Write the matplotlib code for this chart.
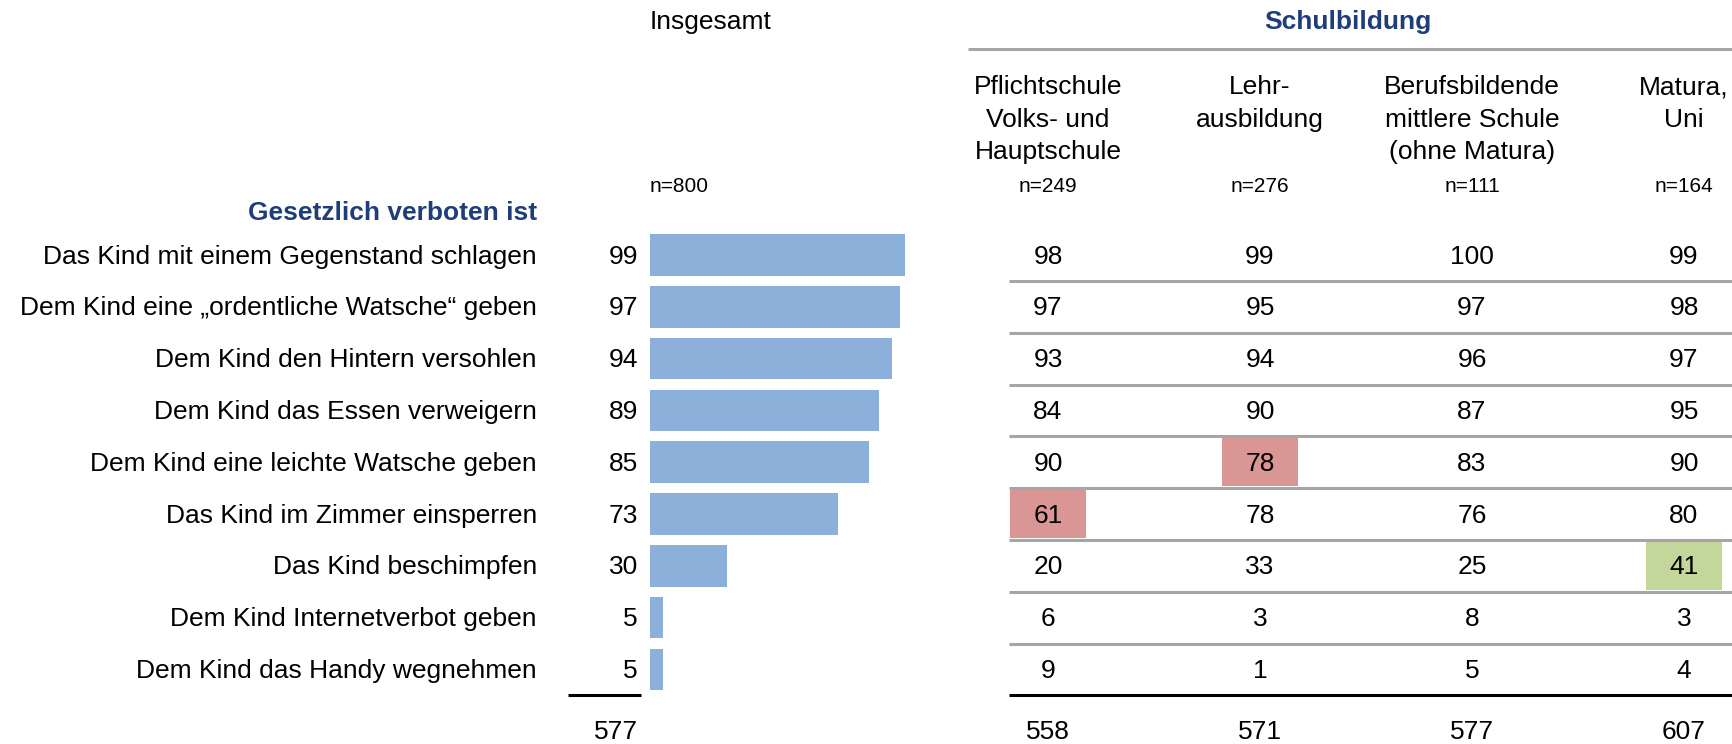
import matplotlib
matplotlib.use("Agg")
import matplotlib.pyplot as plt

plt.rcParams['font.family'] = ['Liberation Sans', 'DejaVu Sans']

# --- data -------------------------------------------------------------
items = [
    "Das Kind mit einem Gegenstand schlagen",
    "Dem Kind eine \u201eordentliche Watsche\u201c geben",
    "Dem Kind den Hintern versohlen",
    "Dem Kind das Essen verweigern",
    "Dem Kind eine leichte Watsche geben",
    "Das Kind im Zimmer einsperren",
    "Das Kind beschimpfen",
    "Dem Kind Internetverbot geben",
    "Dem Kind das Handy wegnehmen",
]
total = [99, 97, 94, 89, 85, 73, 30, 5, 5]
n_total = 800

school_cols = [
    "Pflichtschule\nVolks- und\nHauptschule",
    "Lehr-\nausbildung",
    "Berufsbildende\nmittlere Schule\n(ohne Matura)",
    "Matura,\nUni",
]
school_n = [249, 276, 111, 164]
pflicht = [98, 97, 93, 84, 90, 61, 20, 6, 9]
lehr = [99, 95, 94, 90, 78, 78, 33, 3, 1]
bms = [100, 97, 96, 87, 83, 76, 25, 8, 5]
matura = [99, 98, 97, 95, 90, 80, 41, 3, 4]
school_vals = [pflicht, lehr, bms, matura]

# (row, column, kind) of highlighted cells
highlights = [(4, 1, "low"), (5, 0, "low"), (6, 3, "high")]

# --- layout / style ---------------------------------------------------
W, H = 1733, 744
ROW0, STEP = 255, 51.8          # pixel centre of first row, row pitch
BAR_X0, BAR_W100 = 650, 257.6   # bar origin and width of 100 %
col_x = [1048, 1260, 1472, 1684]
TXT_DY = 0.03                   # nudge text slightly down within the row

BLUE = "#1F3E79"
BAR = "#8DB0DA"
GREY = "#A6A6A6"
CELL = {"low": "#DA9694", "high": "#C4D79B"}
FS = 19
FS_N = 15


def yr(px):
    # pixel row -> data row units
    return (px - ROW0) / STEP


fig = plt.figure(figsize=(W / 100, H / 100), dpi=100)
ax = fig.add_axes([0, 0, 1, 1])
ax.set_xlim(0, W)
ax.set_ylim(yr(H), yr(0))
ax.axis("off")

axb = fig.add_axes([BAR_X0 / W, 0, BAR_W100 / W, 1])
axb.set_xlim(0, 100)
axb.set_ylim(yr(H), yr(0))
axb.axis("off")

rows = list(range(len(items)))

# bars
axb.barh(rows, total, height=0.8, color=BAR)

# labels and overall values
for i, (lab, v) in enumerate(zip(items, total)):
    ax.text(537, i + TXT_DY, lab, ha="right", va="center", fontsize=FS)
    ax.text(638, i + TXT_DY, str(v), ha="right", va="center", fontsize=FS)

ax.text(537, yr(213), "Gesetzlich verboten ist", ha="right", va="center",
        fontsize=FS, fontweight="bold", color=BLUE)
ax.text(650, yr(22), "Insgesamt", ha="left", va="center", fontsize=FS)
ax.text(650, yr(186), f"n={n_total}", ha="left", va="center", fontsize=FS_N)

# school header
ax.text(1348, yr(22), "Schulbildung", ha="center", va="center",
        fontsize=FS, fontweight="bold", color=BLUE)
ax.hlines(yr(49), 968, W, color=GREY, lw=2.2)
for j, (name, n) in enumerate(zip(school_cols, school_n)):
    ax.text(col_x[j], yr(75), name, ha="center", va="top", fontsize=FS,
            multialignment="center", linespacing=1.45)
    ax.text(col_x[j], yr(186), f"n={n}", ha="center", va="center", fontsize=FS_N)

# highlighted cells
for r, c, kind in highlights:
    ax.barh(r, 76, left=col_x[c] - 38, height=0.92, color=CELL[kind], zorder=1)

# table values
for j, vals in enumerate(school_vals):
    for i, v in enumerate(vals):
        ax.text(col_x[j], i + TXT_DY, str(v), ha="center", va="center",
                fontsize=FS, zorder=3)

# row separators
ax.hlines([i + 0.5 for i in rows[:-1]], 1009, W, color=GREY, lw=2.2, zorder=2)
ax.hlines(rows[-1] + 0.5, 1009, W, color="black", lw=2.2, zorder=2)
ax.hlines(rows[-1] + 0.5, 568, 641, color="black", lw=2.2, zorder=2)

# sums
ax.text(638, yr(732), str(sum(total)), ha="right", va="center", fontsize=FS)
for j, vals in enumerate(school_vals):
    ax.text(col_x[j], yr(732), str(sum(vals)), ha="center", va="center", fontsize=FS)

fig.savefig("out.png", dpi=100)
